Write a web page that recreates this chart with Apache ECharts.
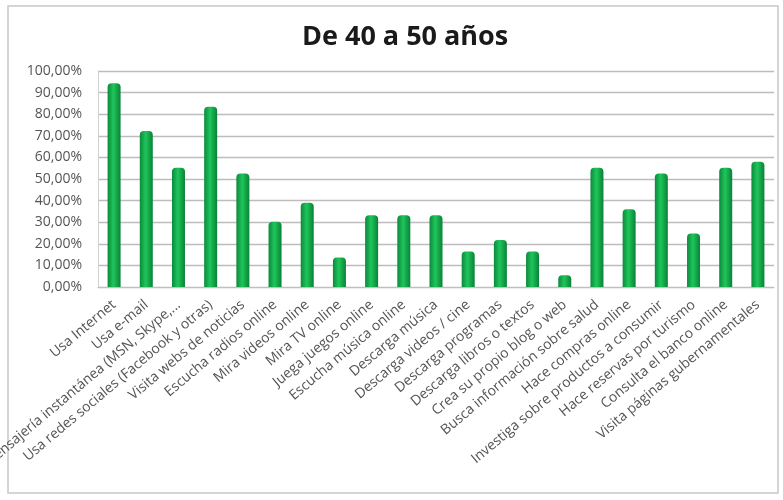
<!DOCTYPE html>
<html><head><meta charset="utf-8">
<script src="https://cdn.jsdelivr.net/npm/echarts@6/dist/echarts.min.js"></script>
<style>html,body{margin:0;padding:0;background:#fff}#c{width:783px;height:500px}</style>
</head><body><div id="c"></div>
<script>
const categories = [
  "Usa Internet","Usa e-mail","Usa mensajería instantánea (MSN, Skype,...","Usa redes sociales (Facebook y otras)",
  "Visita webs de noticias","Escucha radios online","Mira videos online","Mira TV online",
  "Juega juegos online","Escucha música online","Descarga música","Descarga videos / cine",
  "Descarga programas","Descarga libros o textos","Crea su propio blog o web","Busca información sobre salud",
  "Hace compras online","Investiga sobre productos a consumir","Hace reservas por turismo","Consulta el banco online",
  "Visita páginas gubernamentales"
];
const values = [94.3,72.2,55.2,83.5,52.5,30.2,39.0,13.7,33.2,33.2,33.2,16.4,21.8,16.4,5.4,55.2,36.0,52.5,24.8,55.2,58.0];
const yTicks = {min:0, max:100, interval:10};
const titleText = "De 40 a 50 años";

const chart = echarts.init(document.getElementById('c'));
chart.setOption({
  backgroundColor:'#fff',
  animation:false,
  title:{text:titleText,left:297,top:19,textStyle:{fontFamily:'Open Sans',fontWeight:'bold',fontSize:27,color:'#1a1a1a'}},
  graphic:[{type:'rect',shape:{x:8,y:6,width:770,height:487},style:{fill:'none',stroke:'#c8c8c8',lineWidth:1.5},z:-1}],
  grid:{left:98,right:9,top:71,bottom:213,containLabel:false,outerBoundsMode:'none'},
  xAxis:{type:'category',data:categories,
    axisLine:{lineStyle:{color:'#bfbfbf'}},axisTick:{show:false},
    axisLabel:{rotate:40,interval:0,fontFamily:'Open Sans',fontSize:14,color:'#555555',margin:16}},
  yAxis:{type:'value',min:yTicks.min,max:yTicks.max,interval:yTicks.interval,
    axisLine:{show:true,lineStyle:{color:'#d0d0d0'}},axisTick:{show:false},
    splitLine:{lineStyle:{color:'#bdbdbd',width:1.3}},
    axisLabel:{fontFamily:'Open Sans',fontSize:14,color:'#555555',margin:16,
      formatter:v=>v.toFixed(2).replace('.',',')+'%'}},
  series:[{type:'bar',data:values,barWidth:13,
    itemStyle:{borderRadius:[4,4,0,0],
      color:new echarts.graphic.LinearGradient(0,0,1,0,[
        {offset:0,color:'#0b8a3a'},{offset:0.45,color:'#1fc55c'},{offset:1,color:'#0a8236'}])}}]
});
</script></body></html>
